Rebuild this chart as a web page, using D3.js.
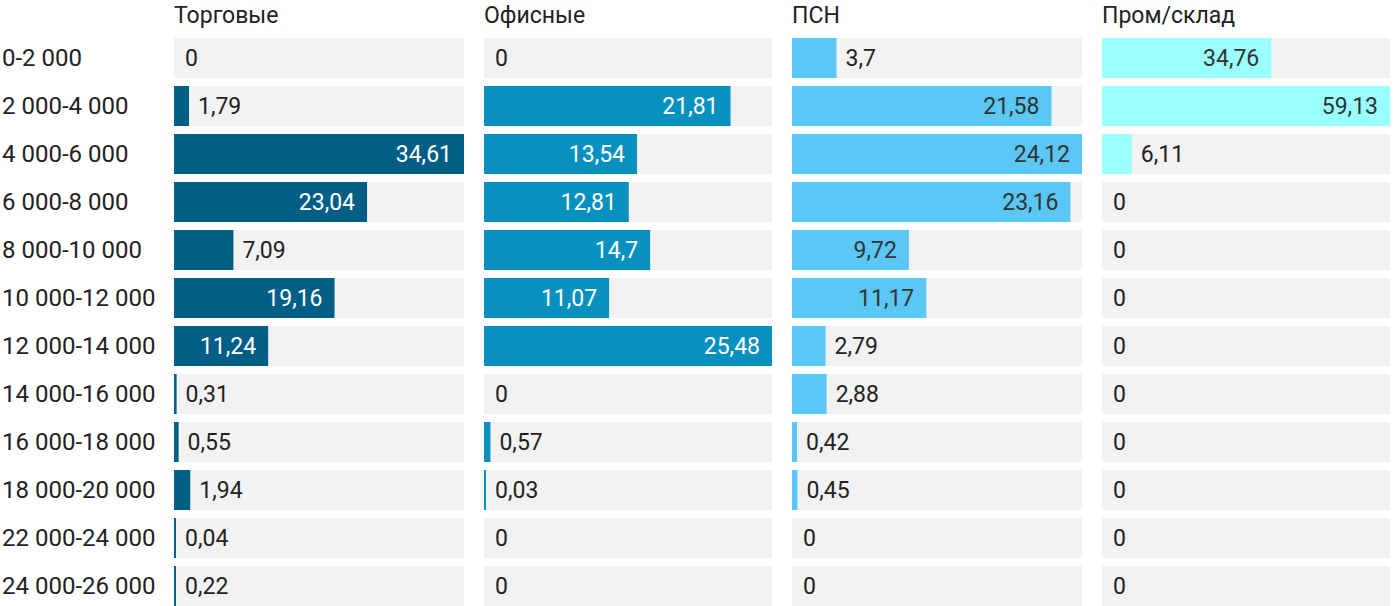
<!DOCTYPE html>
<html>
<head>
<meta charset="utf-8">
<script src="https://cdn.jsdelivr.net/npm/d3@7"></script>
<style>
  body { margin: 0; background: #fff; font-family: Roboto, sans-serif; }
  text { font-family: Roboto, sans-serif; }
</style>
</head>
<body>
<script>
// price bands (rub per sq m) and share of deals per segment, %
var bands = ["0-2 000", "2 000-4 000", "4 000-6 000", "6 000-8 000", "8 000-10 000",
  "10 000-12 000", "12 000-14 000", "14 000-16 000", "16 000-18 000", "18 000-20 000",
  "22 000-24 000", "24 000-26 000"];

var segments = ["Торговые", "Офисные", "ПСН", "Пром/склад"];

var trade = [0, 1.79, 34.61, 23.04, 7.09, 19.16, 11.24, 0.31, 0.55, 1.94, 0.04, 0.22];
var office = [0, 21.81, 13.54, 12.81, 14.7, 11.07, 25.48, 0, 0.57, 0.03, 0, 0];
var psn = [3.7, 21.58, 24.12, 23.16, 9.72, 11.17, 2.79, 2.88, 0.42, 0.45, 0, 0];
var industrial = [34.76, 59.13, 6.11, 0, 0, 0, 0, 0, 0, 0, 0, 0];

var series = [trade, office, psn, industrial];
var colors = ["#035e86", "#0891be", "#5bc7f4", "#99ffff"];
var labelInside = ["#fff", "#fff", "#333", "#333"];

var width = 1400;
var height = 606;

var svg = d3.select("body").append("svg")
  .attr("width", width)
  .attr("height", height);

var y = d3.scaleBand()
  .domain(bands)
  .range([38, 38 + 48 * bands.length - 8])
  .paddingInner(8 / 48)
  .paddingOuter(0);

// each panel: [left, right]
var panels = [[174, 464], [484, 772], [792, 1082], [1102, 1390]];

var fmt = function(v){ return String(v).replace(".", ","); };

// row labels
svg.append("g").selectAll("text")
  .data(bands)
  .enter().append("text")
    .attr("x", 2)
    .attr("y", function(d){ return y(d) + y.bandwidth() / 2; })
    .attr("dy", ".35em")
    .attr("font-size", 24)
    .attr("fill", "#222")
    .text(function(d){ return d; });

segments.forEach(function(name, s){
  var data = series[s];
  var x = d3.scaleLinear()
    .domain([0, d3.max(data)])
    .range(panels[s]);

  // tiny non-zero shares still get a visible sliver
  var barW = function(d){ return d > 0 ? Math.max(2, x(d) - x(0)) : 0; };

  var g = svg.append("g");

  g.append("text")
    .attr("x", panels[s][0])
    .attr("y", 15)
    .attr("dy", ".35em")
    .attr("font-size", 23)
    .attr("fill", "#222")
    .text(name);

  var rows = g.selectAll("g.row")
    .data(data)
    .enter().append("g")
      .attr("class", "row")
      .attr("transform", function(d, i){ return "translate(0," + y(bands[i]) + ")"; });

  rows.append("rect")
    .attr("x", panels[s][0])
    .attr("width", panels[s][1] - panels[s][0])
    .attr("height", y.bandwidth())
    .attr("fill", "#f2f2f2");

  rows.append("rect")
    .attr("x", panels[s][0])
    .attr("width", barW)
    .attr("height", y.bandwidth())
    .attr("fill", colors[s]);

  rows.append("text")
    .attr("y", y.bandwidth() / 2)
    .attr("dy", ".35em")
    .attr("font-size", 23)
    .text(function(d){ return fmt(d); })
    .each(function(d){
      var t = d3.select(this);
      var w = this.getComputedTextLength();
      var bw = barW(d);
      if (bw > w + 24) {
        t.attr("x", panels[s][0] + bw - 12).attr("text-anchor", "end").attr("fill", labelInside[s]);
      } else {
        t.attr("x", panels[s][0] + bw + (d > 0 ? 9 : 11)).attr("fill", "#222");
      }
    });
});
</script>
</body>
</html>
